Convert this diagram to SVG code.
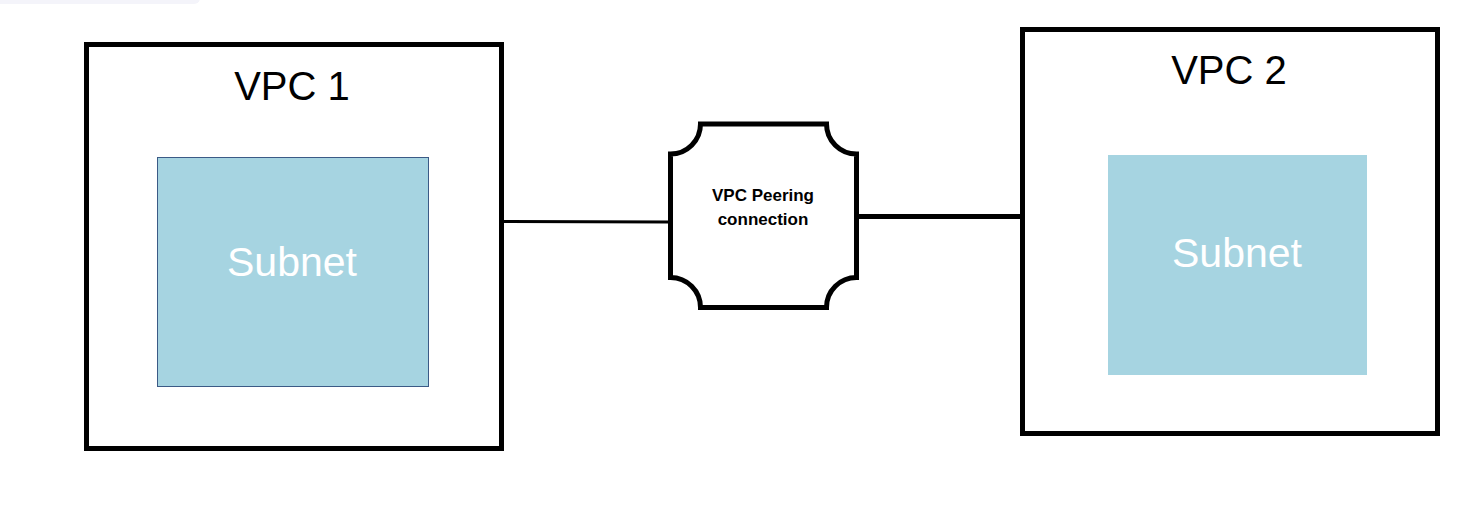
<svg xmlns="http://www.w3.org/2000/svg" width="1480" height="522" viewBox="0 0 1480 522">
<style>
.vpc{fill:#fff;stroke:#000;stroke-width:5}
.sub{fill:#a6d4e1}
.title{font-family:"Liberation Sans",Arial,sans-serif;font-size:40px;fill:#000;text-anchor:middle}
.subt{font-family:"Liberation Sans",Arial,sans-serif;font-size:41px;fill:#fff;text-anchor:middle}
.peer{fill:#fff;stroke:#000;stroke-width:5;stroke-linejoin:miter}
.pt{font-family:"Liberation Sans",Arial,sans-serif;font-size:17px;font-weight:bold;fill:#000;text-anchor:middle}
.conn{stroke:#000;fill:none}
</style>
<rect width="1480" height="522" fill="#fff"/>
<rect x="-10" y="-10" width="210" height="14" rx="6" fill="#f4f4fa"/>
<g id="connectors">
<line class="conn" x1="502" y1="221.5" x2="670" y2="222" stroke-width="3"/>
<line class="conn" x1="857" y1="216.5" x2="1022" y2="216.5" stroke-width="5"/>
</g>
<g id="vpc1">
<rect class="vpc" x="86.5" y="44.5" width="415" height="404"/>
<text class="title" x="292" y="100">VPC 1</text>
</g>
<g id="subnet1">
<rect class="sub" x="157.5" y="157.5" width="271" height="229" stroke="#3b5a86" stroke-width="1"/>
<text class="subt" x="292" y="276">Subnet</text>
</g>
<g id="vpc2">
<rect class="vpc" x="1022.5" y="29.5" width="415" height="404"/>
<text class="title" x="1229" y="84">VPC 2</text>
</g>
<g id="subnet2">
<rect class="sub" x="1108" y="155" width="259" height="220"/>
<text class="subt" x="1237" y="267">Subnet</text>
</g>
<g id="peering">
<path class="peer" d="M700.5,124 H826.5 A30,30 0 0 0 856.5,154 V277.5 A30,30 0 0 0 826.5,307.5 H700.5 A30,30 0 0 0 670.5,277.5 V154 A30,30 0 0 0 700.5,124 Z"/>
<text class="pt" x="763" y="201">VPC Peering</text>
<text class="pt" x="763" y="225">connection</text>
</g>
</svg>
